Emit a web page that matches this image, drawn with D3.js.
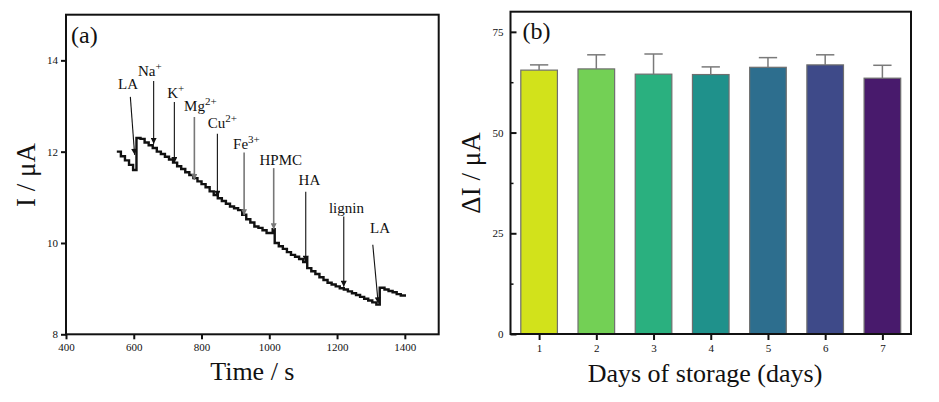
<!DOCTYPE html>
<html>
<head>
<meta charset="utf-8">
<script src="https://cdn.jsdelivr.net/npm/d3@7"></script>
<style>
  body { margin: 0; background: #fff; }
  svg text { font-family: "Liberation Serif", "Times New Roman", serif; fill: #111; }
</style>
</head>
<body>
<div id="chart"></div>
<script>
// ---- panel (a) data: amperometric response, step levels (time s, current uA)
const timeSec = [550, 562, 574, 586, 598, 608, 620, 632, 644, 656, 668, 680, 692, 704, 716,
  728, 740, 752, 764, 776, 788, 800, 812, 824, 836, 848, 860, 872, 884, 896, 908, 920, 932,
  944, 956, 968, 980, 992, 1010, 1016, 1028, 1040, 1052, 1064, 1076, 1088, 1100, 1108, 1112,
  1124, 1136, 1148, 1160, 1172, 1184, 1196, 1208, 1220, 1232, 1244, 1256, 1268, 1280, 1292,
  1304, 1316, 1326, 1340, 1352, 1364, 1376, 1388, 1400];
const currentUA = [12.00, 11.90, 11.81, 11.71, 11.60, 12.30, 12.28, 12.20, 12.14, 12.08, 12.00,
  11.95, 11.89, 11.83, 11.76, 11.68, 11.62, 11.55, 11.49, 11.42, 11.35, 11.29, 11.22, 11.13,
  11.05, 10.98, 10.92, 10.86, 10.80, 10.76, 10.72, 10.62, 10.52, 10.45, 10.36, 10.33, 10.28,
  10.22, 10.30, 10.00, 9.93, 9.87, 9.80, 9.74, 9.70, 9.65, 9.58, 9.68, 9.45, 9.38, 9.32, 9.25,
  9.19, 9.13, 9.09, 9.05, 9.01, 8.98, 8.94, 8.90, 8.86, 8.82, 8.78, 8.74, 8.70, 8.65, 9.02,
  8.98, 8.95, 8.92, 8.88, 8.85, 8.82];

// interferent annotations (arrow tail / tip and label anchor, in data units)
const annoName = ["LA", "Na", "K", "Mg", "Cu", "Fe", "HPMC", "HA", "lignin", "LA"];
const annoSup = ["", "+", "+", "2+", "2+", "3+", "", "", "", ""];
const annoTailT = [589.9, 658.7, 719.8, 778.9, 846.8, 925.7, 1013, 1107.6, 1219.8, 1305.5];
const annoTailI = [13.20, 13.55, 13.09, 12.76, 12.39, 11.98, 11.64, 11.12, 10.58, 9.96];
const annoTipT = [602.6, 658.7, 719.8, 778.9, 846.8, 925.7, 1013, 1107.6, 1219.8, 1321.4];
const annoTipI = [11.93, 12.17, 11.75, 11.38, 11.01, 10.61, 10.30, 9.59, 9.04, 8.68];
const annoTextT = [583, 647.5, 724, 796.6, 861.6, 932.5, 1034, 1118.5, 1227.8, 1326.7];
const annoTextI = [13.37, 13.66, 13.18, 12.88, 12.51, 12.06, 11.71, 11.26, 10.65, 10.21];
const annoGray = [false, false, false, true, false, true, true, false, false, false];

const aTicksX = [400, 600, 800, 1000, 1200, 1400];
const aTicksY = [8, 10, 12, 14];

// ---- panel (b) data: storage stability
const days = [1, 2, 3, 4, 5, 6, 7];
const deltaI = [65.5, 65.8, 64.5, 64.4, 66.2, 66.8, 63.5];
const deltaErr = [1.3, 3.5, 5.0, 1.9, 2.4, 2.5, 3.2];
const barColors = ["#d2e21b", "#73d055", "#2ab07f", "#1f918b", "#2d6e8e", "#3e4a89", "#481a6c"];
const bTicksY = [0, 25, 50, 75];
const bMinorY = [12.5, 37.5, 62.5];

const W = 939, H = 402;
const serif = "Liberation Serif, Times New Roman, serif";
const svg = d3.select("#chart").append("svg")
  .attr("width", W).attr("height", H);

// arrow head marker
const defs = svg.append("defs");
[["arrBlack", "#111"], ["arrGray", "#777"]].forEach(([id, c]) => {
  defs.append("marker")
    .attr("id", id)
    .attr("viewBox", "0 0 10 10")
    .attr("refX", 10).attr("refY", 5)
    .attr("markerWidth", 9).attr("markerHeight", 6)
    .attr("markerUnits", "userSpaceOnUse")
    .attr("orient", "auto")
    .append("path").attr("d", "M0,0 L10,5 L0,10 Z").attr("fill", c);
});

// shared axis styling
function styleAxis(g, tickWidth) {
  g.attr("font-family", serif);
  g.select(".domain").remove();
  g.selectAll("line").attr("stroke", "#111").attr("stroke-width", tickWidth);
  g.selectAll("text").attr("font-size", 11).attr("fill", "#111");
}

/********* panel (a) **********/
const aL = 66, aR = 438.7, aT = 14.7, aB = 334.3;
const ax = d3.scaleLinear().domain([400, 1500]).range([aL, aR]);
const ay = d3.scaleLinear().domain([8, 15]).range([aB, aT]);

const gA = svg.append("g");

gA.append("g")
  .attr("transform", "translate(0," + aB + ")")
  .call(d3.axisBottom(ax).tickValues(aTicksX).tickSize(5).tickPadding(4).tickFormat(d3.format("d")))
  .call(g => styleAxis(g, 2));

gA.append("g")
  .attr("transform", "translate(" + aL + ",0)")
  .call(d3.axisLeft(ay).tickValues(aTicksY).tickSize(5).tickPadding(3).tickFormat(d3.format("d")))
  .call(g => styleAxis(g, 2));

gA.append("rect")
  .attr("x", aL).attr("y", aT)
  .attr("width", aR - aL).attr("height", aB - aT)
  .attr("fill", "none").attr("stroke", "#111").attr("stroke-width", 2);

const respData = timeSec.map((t, i) => [t, currentUA[i]]);
const respLine = d3.line()
  .x(d => ax(d[0]))
  .y(d => ay(d[1]))
  .curve(d3.curveStepAfter);

gA.append("path")
  .attr("d", respLine(respData))
  .attr("fill", "none")
  .attr("stroke", "#111")
  .attr("stroke-width", 2.4);

annoName.forEach((name, i) => {
  const col = annoGray[i] ? "#777" : "#111";
  gA.append("line")
    .attr("x1", ax(annoTailT[i])).attr("y1", ay(annoTailI[i]))
    .attr("x2", ax(annoTipT[i])).attr("y2", ay(annoTipI[i]))
    .attr("stroke", col).attr("stroke-width", annoGray[i] ? 1.6 : 1.1)
    .attr("marker-end", annoGray[i] ? "url(#arrGray)" : "url(#arrBlack)");
  const txt = gA.append("text")
    .attr("x", ax(annoTextT[i])).attr("y", ay(annoTextI[i]))
    .attr("text-anchor", "middle")
    .attr("font-size", 15);
  txt.append("tspan").text(name);
  if (annoSup[i]) {
    txt.append("tspan").attr("dy", -6).attr("font-size", 11).text(annoSup[i]);
  }
});

gA.append("text")
  .attr("x", aL + 5).attr("y", 43)
  .attr("font-size", 24)
  .text("(a)");

gA.append("text")
  .attr("x", (aL + aR) / 2 + 0).attr("y", 380)
  .attr("text-anchor", "middle")
  .attr("font-size", 26)
  .text("Time / s");

gA.append("text")
  .attr("transform", "translate(35,175) rotate(-90)")
  .attr("text-anchor", "middle")
  .attr("font-size", 27)
  .text("I / μA");

/********* panel (b) **********/
const bL = 510.5, bR = 911, bT = 11.7, bB = 334;
const bx = d3.scaleLinear().domain([0.5, 7.5]).range([bL, bR]);
const by = d3.scaleLinear().domain([0, 80]).range([bB, bT]);
const barHalf = 0.32;
const capHalf = 0.16;

const gB = svg.append("g");

gB.selectAll("rect.bar")
  .data(days)
  .join("rect")
  .attr("class", "bar")
  .attr("x", d => bx(d - barHalf))
  .attr("width", d => bx(d + barHalf) - bx(d - barHalf))
  .attr("y", (d, i) => by(deltaI[i]))
  .attr("height", (d, i) => by(0) - by(deltaI[i]))
  .attr("fill", (d, i) => barColors[i])
  .attr("stroke", "#6f6f6f")
  .attr("stroke-width", 1.2);

// upper error bars
gB.selectAll("line.err")
  .data(days)
  .join("line")
  .attr("class", "err")
  .attr("x1", d => bx(d)).attr("x2", d => bx(d))
  .attr("y1", (d, i) => by(deltaI[i]))
  .attr("y2", (d, i) => by(deltaI[i] + deltaErr[i]))
  .attr("stroke", "#7a7a7a").attr("stroke-width", 1.5);

gB.selectAll("line.cap")
  .data(days)
  .join("line")
  .attr("class", "cap")
  .attr("x1", d => bx(d - capHalf)).attr("x2", d => bx(d + capHalf))
  .attr("y1", (d, i) => by(deltaI[i] + deltaErr[i]))
  .attr("y2", (d, i) => by(deltaI[i] + deltaErr[i]))
  .attr("stroke", "#7a7a7a").attr("stroke-width", 1.5);

gB.append("g")
  .attr("transform", "translate(0," + bB + ")")
  .call(d3.axisBottom(bx).tickValues(days).tickSize(6).tickPadding(4).tickFormat(d3.format("d")))
  .call(g => styleAxis(g, 2));

gB.append("g")
  .attr("transform", "translate(" + bL + ",0)")
  .call(d3.axisLeft(by).tickValues(bTicksY).tickSize(-6).tickPadding(7))
  .call(g => styleAxis(g, 2));

gB.append("g")
  .attr("transform", "translate(" + bL + ",0)")
  .call(d3.axisLeft(by).tickValues(bMinorY).tickSize(-3).tickFormat(""))
  .call(g => styleAxis(g, 1.5));

gB.append("rect")
  .attr("x", bL).attr("y", bT)
  .attr("width", bR - bL).attr("height", bB - bT)
  .attr("fill", "none").attr("stroke", "#111").attr("stroke-width", 2);

gB.append("text")
  .attr("x", bL + 12).attr("y", 38.5)
  .attr("font-size", 24)
  .text("(b)");

gB.append("text")
  .attr("x", 705).attr("y", 381.5)
  .attr("text-anchor", "middle")
  .attr("font-size", 26)
  .text("Days of storage (days)");

gB.append("text")
  .attr("transform", "translate(480,173) rotate(-90)")
  .attr("text-anchor", "middle")
  .attr("font-size", 27)
  .text("ΔI / μA");
</script>
</body>
</html>
